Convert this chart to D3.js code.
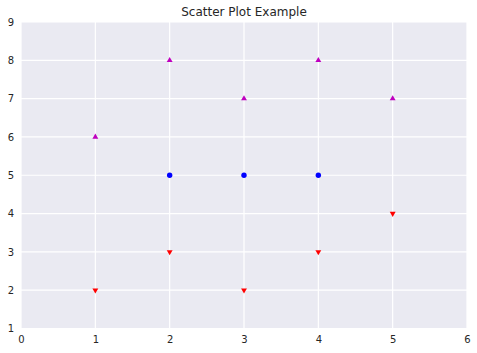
<!DOCTYPE html>
<html>
<head>
<meta charset="utf-8">
<script src="https://cdn.jsdelivr.net/npm/d3@7"></script>
<style>
  body { margin: 0; background: #fff; }
  text { font-family: "DejaVu Sans", sans-serif; fill: #262626; }
</style>
</head>
<body>
<div id="chart"></div>
<script>
// scatter plot, seaborn darkgrid look

const circleX = [2, 3, 4];
const circleY = [5, 5, 5];
const upX = [1, 2, 3, 4, 5];
const upY = [6, 8, 7, 8, 7];
const downX = [1, 2, 3, 4, 5];
const downY = [2, 3, 2, 3, 4];
const xTicks = [0, 1, 2, 3, 4, 5, 6];
const yTicks = [1, 2, 3, 4, 5, 6, 7, 8, 9];

const width = 477, height = 353;
const margin = { top: 22, right: 10, bottom: 24, left: 21 };

const svg = d3.select("#chart")
    .append("svg")
    .attr("width", width)
    .attr("height", height);

const x = d3.scaleLinear()
    .domain([0, 6])
    .range([margin.left, width - margin.right]);

const y = d3.scaleLinear()
    .domain([1, 9])
    .range([height - margin.bottom - 0.5, margin.top]);

svg.append("rect")
    .attr("x", x(0))
    .attr("y", y(9))
    .attr("width", x(6) - x(0))
    .attr("height", y(1) - y(9))
    .attr("fill", "#eaeaf2");

const grid = svg.append("g").attr("class", "grid");
grid.selectAll(".vx")
    .data(xTicks)
    .enter()
    .append("line")
    .attr("x1", d => x(d)).attr("x2", d => x(d))
    .attr("y1", y(1)).attr("y2", y(9))
    .attr("stroke", "#fff")
    .attr("stroke-width", 1.2);
grid.selectAll(".hy")
    .data(yTicks)
    .enter()
    .append("line")
    .attr("y1", d => y(d)).attr("y2", d => y(d))
    .attr("x1", x(0)).attr("x2", x(6))
    .attr("stroke", "#fff")
    .attr("stroke-width", 1.2);

const xAxis = svg.append("g")
    .attr("transform", `translate(0,${y(1)})`)
    .call(d3.axisBottom(x).tickValues(xTicks).tickSize(0).tickPadding(7).tickFormat(d3.format("d")));
const yAxis = svg.append("g")
    .attr("transform", `translate(${x(0)},0)`)
    .call(d3.axisLeft(y).tickValues(yTicks).tickSize(0).tickPadding(7).tickFormat(d3.format("d")));
[xAxis, yAxis].forEach(a => {
    a.select(".domain").remove();
    a.selectAll("text").style("font-size", "10px").style("font-family", "DejaVu Sans, sans-serif").attr("fill", "#262626");
});

const pts = svg.append("g");

pts.selectAll(".c")
    .data(circleX.map((d, i) => [d, circleY[i]]))
    .enter()
    .append("circle")
    .attr("cx", d => x(d[0]))
    .attr("cy", d => y(d[1]))
    .attr("r", 2.7)
    .attr("fill", "#0000ff");

const tri = d3.symbol().type(d3.symbolTriangle).size(15);

pts.selectAll(".up")
    .data(upX.map((d, i) => [d, upY[i]]))
    .enter()
    .append("path")
    .attr("d", tri)
    .attr("transform", d => `translate(${x(d[0])},${y(d[1])})`)
    .attr("fill", "#bf00bf");

pts.selectAll(".down")
    .data(downX.map((d, i) => [d, downY[i]]))
    .enter()
    .append("path")
    .attr("d", tri)
    .attr("transform", d => `translate(${x(d[0])},${y(d[1])}) rotate(180)`)
    .attr("fill", "#ff0000");

svg.append("text")
    .attr("x", (x(0) + x(6)) / 2)
    .attr("y", margin.top - 6)
    .attr("text-anchor", "middle")
    .style("font-size", "12px")
    .text("Scatter Plot Example");
</script>
</body>
</html>
